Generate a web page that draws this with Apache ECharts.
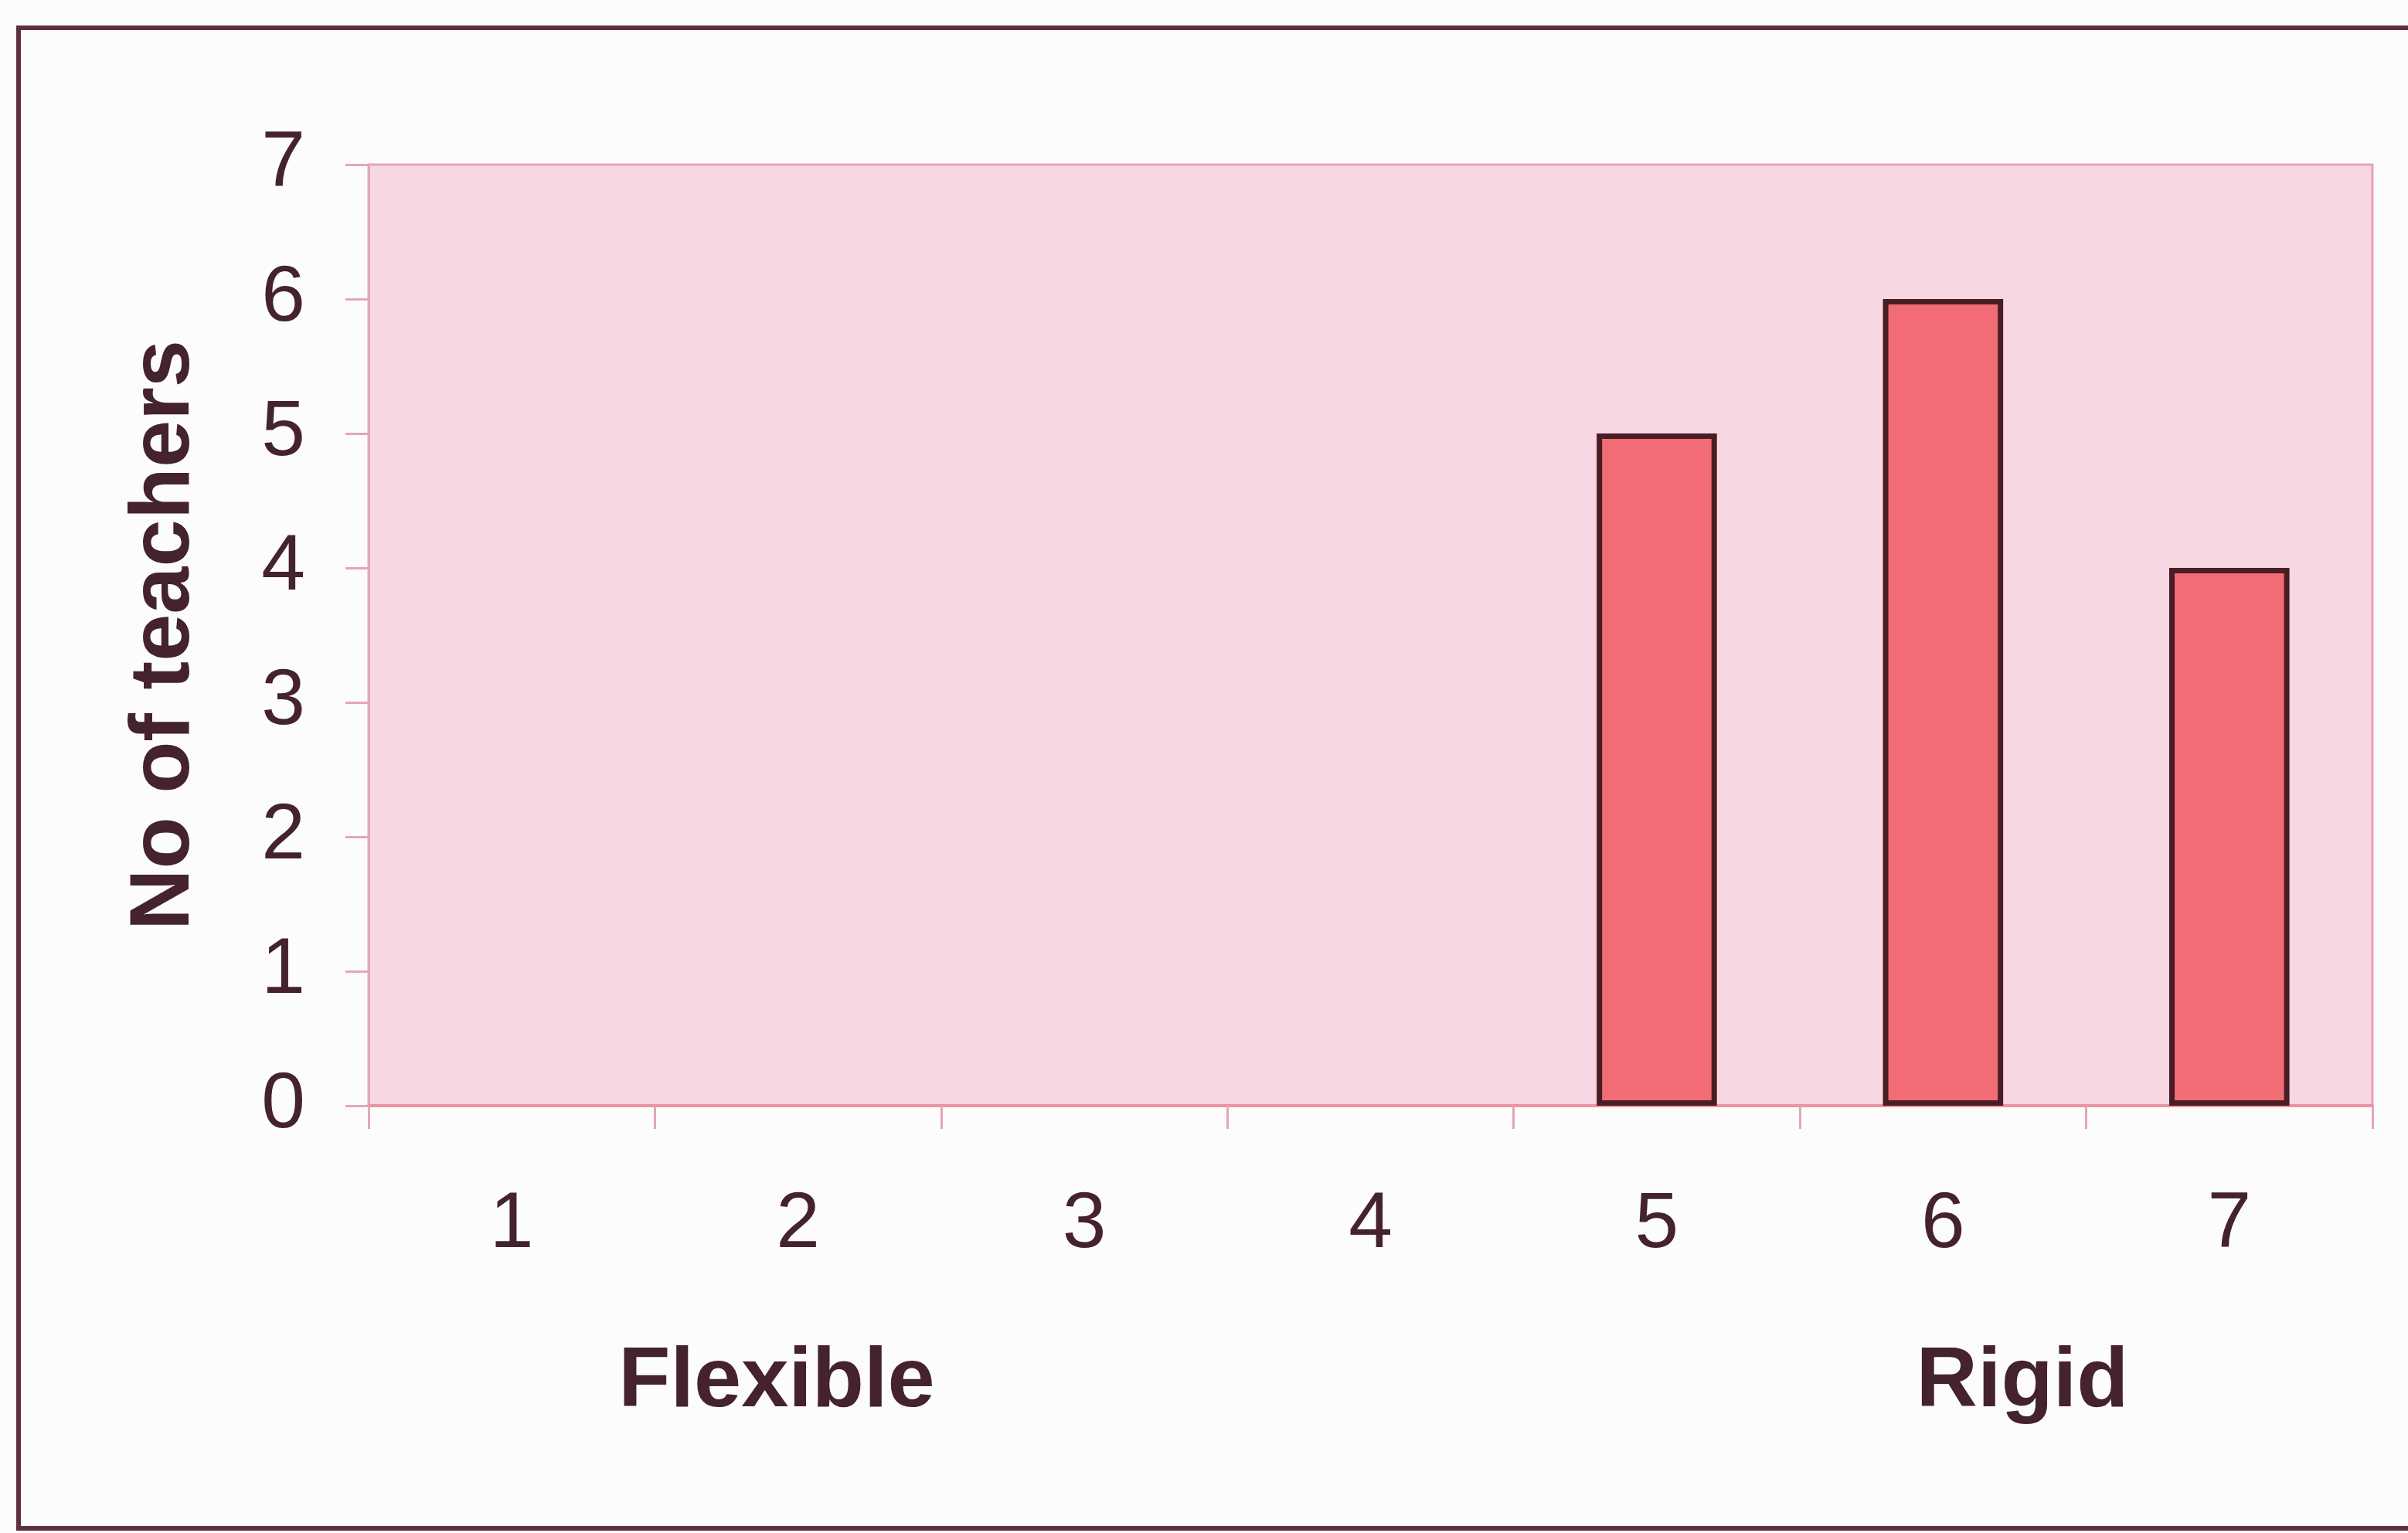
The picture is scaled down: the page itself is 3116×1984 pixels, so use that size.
<!DOCTYPE html>
<html>
<head>
<meta charset="utf-8">
<script src="https://cdn.jsdelivr.net/npm/echarts@6/dist/echarts.min.js"></script>
<style>
  html, body { margin: 0; padding: 0; background: #fdfcfd; }
  #chart { width: 3116px; height: 1984px; }
</style>
</head>
<body>
<div id="chart"></div>
<script>
// Rating scale from flexible (1) to rigid (7)
const categories = ['1', '2', '3', '4', '5', '6', '7'];
// Number of teachers choosing each rating
const teacherCounts = [0, 0, 0, 0, 5, 6, 4];
const yTicks = { min: 0, max: 7, interval: 1 };
const yAxisTitle = 'No of teachers';
const scaleEndLabels = ['Flexible', 'Rigid'];

const FONT = '"Liberation Sans", Arial, Helvetica, sans-serif';
const INK = '#44222f';

// Empty ratings get no outline so nothing shows on the baseline
const barData = teacherCounts.map(v => v === 0
  ? { value: v, itemStyle: { borderWidth: 0 } }
  : v);

const chart = echarts.init(document.getElementById('chart'), null, { renderer: 'canvas' });

chart.setOption({
  backgroundColor: '#fdfcfd',
  animation: false,
  grid: {
    left: 477, right: 46, top: 213, bottom: 553,
    show: true,
    backgroundColor: '#f6d7e2',
    borderColor: '#e8a3b6',
    borderWidth: 3
  },
  xAxis: {
    type: 'category',
    data: categories,
    axisLine: { show: true, lineStyle: { color: '#ea93a2', width: 4 } },
    axisTick: { show: true, length: 30, lineStyle: { color: '#e3a6b8', width: 3 } },
    axisLabel: { margin: 104, fontSize: 102, color: INK, fontFamily: FONT }
  },
  yAxis: {
    type: 'value',
    min: yTicks.min, max: yTicks.max, interval: yTicks.interval,
    name: yAxisTitle,
    nameLocation: 'middle',
    nameGap: 208,
    nameTextStyle: { fontSize: 110, fontWeight: 'bold', color: INK, fontFamily: FONT },
    axisLine: { show: true, lineStyle: { color: '#e3a6b8', width: 3 } },
    axisTick: { show: true, length: 30, lineStyle: { color: '#e3a6b8', width: 3 } },
    axisLabel: { margin: 82, fontSize: 102, color: INK, fontFamily: FONT },
    splitLine: { show: false }
  },
  series: [{
    type: 'bar',
    data: barData,
    barWidth: '42%',
    itemStyle: { color: '#f16c75', borderColor: '#4a1c24', borderWidth: 7 }
  }],
  graphic: [
    {
      type: 'rect',
      silent: true,
      shape: { x: 24, y: 36, width: 3200, height: 1942 },
      style: { fill: null, stroke: '#603041', lineWidth: 6 }
    },
    {
      type: 'text',
      x: 1005, y: 1790,
      style: {
        text: scaleEndLabels[0], font: 'bold 110px ' + FONT, fill: INK,
        align: 'center', verticalAlign: 'middle'
      }
    },
    {
      type: 'text',
      x: 2617, y: 1790,
      style: {
        text: scaleEndLabels[1], font: 'bold 110px ' + FONT, fill: INK,
        align: 'center', verticalAlign: 'middle'
      }
    }
  ]
});
</script>
</body>
</html>
